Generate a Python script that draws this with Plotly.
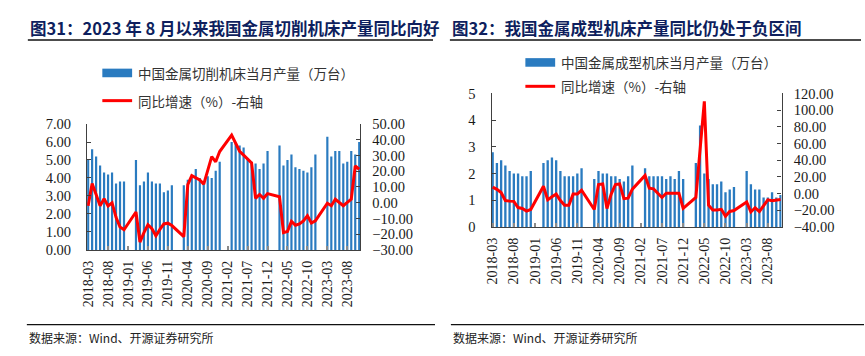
import plotly.graph_objects as go
import pandas as pd

W, H = 865, 356

# ---------------- data ----------------
months = [p.strftime("%Y-%m") for p in pd.period_range("2018-03", "2023-11", freq="M")]
tick_labels = months[::5]

# 图31 中国金属切削机床当月产量（万台）
cut_output = [
    5.0, 5.6, 5.2, 4.7, 4.3, 4.2, 4.3, 3.7, 3.8, 3.8,              # 2018-03..12
    None, None, 5.0, 3.6, 3.8, 4.3, 3.8, 3.7, 3.7, 3.2, 3.3, 3.6,  # 2019
    None, None, 3.6, 3.9, 4.1, 4.5, 4.0, 3.8, 4.1, 4.0, 4.4, 4.9,  # 2020
    None, None, 6.0, 5.9, 5.8, 5.7, 5.1, 4.9, 4.8, 4.5, 4.8, 5.5,  # 2021
    None, None, 5.8, 4.7, 5.0, 5.3, 4.6, 4.5, 4.4, 4.3, 4.6, 5.3,  # 2022
    None, None, 6.3, 5.2, 5.5, 5.5, 4.8, 4.9, 5.5, 5.3, 6.0,       # 2023-01..11
]
# 同比增速（%）
cut_yoy = [
    -2.0, 12.2, 5.2, -2.0, 2.6, -2.0, 0.0, -9.3, -15.5, -17.2,
    None, None, -5.9, -25.0, -19.0, -14.0, -16.5, -21.0, -17.0, -13.5, -13.0, -14.5,
    None, None, -21.6, 11.5, 17.2, 15.8, 14.5, 11.8, 20.7, 29.3, 26.0, 32.5,
    None, None, 43.0, 37.3, 32.7, 30.3, 27.9, 25.3, 2.8, 5.2, 2.8, 5.8,
    None, None, 3.8, -19.0, -18.3, -11.9, -14.3, -13.5, -11.5, -8.3, -12.9, -11.5,
    None, None, -0.3, -1.9, 2.2, 0.2, -1.9, 0.2, 2.2, 23.3, 21.3,
]

# 图32 中国金属成型机床当月产量（万台）
form_output = [
    2.8, 2.4, 2.5, 2.3, 2.1, 2.0, 2.0, 1.9, 1.9, 2.1,
    None, None, 2.4, 2.5, 2.6, 2.5, 2.1, 1.9, 1.9, 1.9, 2.0, 2.2,
    None, None, 1.8, 2.1, 2.0, 2.0, 1.9, 1.9, 1.8, 1.7, 1.9, 2.3,
    None, None, 2.2, 1.9, 1.9, 1.9, 1.9, 1.8, 1.9, 1.8, 2.1, 1.8,
    None, None, 2.4, 3.8, 2.0, 1.8, 1.6, 1.6, 1.7, 1.3, 1.4, 1.5,
    None, None, 2.1, 1.6, 1.4, 1.4, 1.1, 1.1, 1.3, 1.1, 1.2,
]
form_yoy = [
    7.8, 5.1, 1.3, -8.3, -9.0, -9.3, -16.7, -17.8, -20.9, -19.0,
    None, None, 8.9, -7.5, -3.7, -0.6, -8.3, -14.0, -14.0, -0.6, -0.6, 4.0,
    None, None, -19.0, 10.9, 11.6, -17.8, -0.6, 10.9, 11.6, -6.0, -5.4, 5.4,
    None, None, 21.8, 6.5, 5.7, 0.0, -4.6, 0.4, 0.4, 0.4, 0.4, -17.6,
    None, None, -4.6, 53.0, 110.5, -13.8, -19.5, -19.5, -18.8, -27.0, -21.4, -20.3,
    None, None, -10.0, -22.0, -17.0, -21.5, -14.5, -7.5, -8.4, -7.5, -7.0,
]

left_title = "图31：2023 年 8 月以来我国金属切削机床产量同比向好"
right_title = "图32：我国金属成型机床产量同比仍处于负区间"
left_bar_name = "中国金属切削机床当月产量（万台）"
right_bar_name = "中国金属成型机床当月产量（万台）"
line_name = "同比增速（%）-右轴"
source_text = "数据来源：Wind、开源证券研究所"

# ---------------- style ----------------
BLUE = "#2A7BC0"
RED = "#FF0000"
AXIS = "#404040"
NAVY = "#0E1F5E"
SERIF = "Liberation Serif"
CJK = "Noto Sans CJK SC"


def px(x):
    return x / W


def py(y):
    return 1 - y / H


fig = go.Figure()
fig.add_trace(go.Bar(x=months, y=cut_output, xaxis="x", yaxis="y",
                     marker=dict(color=BLUE, line=dict(width=0)), name=left_bar_name))
fig.add_trace(go.Scatter(x=months, y=cut_yoy, xaxis="x", yaxis="y2", mode="lines",
                         connectgaps=True, line=dict(color=RED, width=3), name=line_name))
fig.add_trace(go.Bar(x=months, y=form_output, xaxis="x2", yaxis="y3",
                     marker=dict(color=BLUE, line=dict(width=0)), name=right_bar_name))
fig.add_trace(go.Scatter(x=months, y=form_yoy, xaxis="x2", yaxis="y4", mode="lines",
                         connectgaps=True, line=dict(color=RED, width=3), name=line_name))

tickfont = dict(family=SERIF, size=14.5, color="#1a1a1a")
xfont = dict(family=SERIF, size=14, color="#1a1a1a")

xcommon = dict(type="category", categoryorder="array", categoryarray=months,
               tickmode="array", tickvals=tick_labels, ticktext=tick_labels,
               tickangle=-90, tickfont=xfont, showline=True, linecolor=AXIS, linewidth=1.3,
               ticks="inside", ticklen=4, tickcolor="#8a8a8a", tickwidth=2,
               showgrid=False, zeroline=False, range=[-0.25, 68.25], ticklabelstandoff=4)
ycommon = dict(showline=True, linecolor=AXIS, linewidth=1.3, ticks="inside", ticklen=4,
               tickcolor=AXIS, showgrid=False, zeroline=False, tickfont=tickfont)

fig.update_layout(
    width=W, height=H, margin=dict(l=0, r=0, t=0, b=0),
    paper_bgcolor="white", plot_bgcolor="white", showlegend=False,
    bargap=0.45,
    xaxis=dict(domain=[px(81.7), px(356.7)], anchor="y", **xcommon),
    yaxis=dict(domain=[py(253.3), py(121.5)], anchor="x", range=[0, 7], dtick=1,
               tickformat=".2f", ticklabelstandoff=12, **ycommon),
    yaxis2=dict(overlaying="y", anchor="x", side="right", range=[-30, 50], dtick=10,
                tickformat=".2f", ticklabelstandoff=8, **ycommon),
    xaxis2=dict(domain=[px(489), px(781)], anchor="y3", **xcommon),
    yaxis3=dict(domain=[py(229.3), py(89.5)], anchor="x2", range=[0, 5], dtick=1,
                tickformat="d", ticklabelstandoff=12, **ycommon),
    yaxis4=dict(overlaying="y3", anchor="x2", side="right", range=[-40, 120], dtick=20,
                tickformat=".2f", ticklabelstandoff=8, **ycommon),
)

shapes = []
annos = []

# titles + underline
for x0, x1, txt in [(22, 430, left_title), (447, 861, right_title)]:
    annos.append(dict(x=px(x0), y=py(21), xref="paper", yref="paper", xanchor="left",
                      yanchor="middle", text=f"<b>{txt}</b>", showarrow=False,
                      font=dict(family=CJK, size=16.5, color=NAVY)))
    shapes.append(dict(type="line", xref="paper", yref="paper", x0=px(x0), x1=px(x1),
                       y0=py(33.5), y1=py(33.5), line=dict(color="#111", width=1.5)))

# footers
for x0, x1 in [(21, 432), (448, 864)]:
    shapes.append(dict(type="line", xref="paper", yref="paper", x0=px(x0), x1=px(x1),
                       y0=py(331.5), y1=py(331.5), line=dict(color="#111", width=1.3)))
    annos.append(dict(x=px(x0), y=py(345), xref="paper", yref="paper", xanchor="left",
                      yanchor="middle", text=source_text, showarrow=False,
                      font=dict(family=CJK, size=12, color="#222")))

# legends
for lx, by, ly, name in [(97, 68, 97, left_bar_name), (523, 57, 82, right_bar_name)]:
    shapes.append(dict(type="rect", xref="paper", yref="paper", x0=px(lx), x1=px(lx + 30),
                       y0=py(by + 4.5), y1=py(by - 4.5), line=dict(width=0), fillcolor=BLUE))
    shapes.append(dict(type="line", xref="paper", yref="paper", x0=px(lx), x1=px(lx + 30),
                       y0=py(ly), y1=py(ly), line=dict(color=RED, width=3)))
    annos.append(dict(x=px(lx + 34), y=py(by), xref="paper", yref="paper", xanchor="left",
                      yanchor="middle", text=name, showarrow=False,
                      font=dict(family=CJK, size=13.5, color="#333")))
    annos.append(dict(x=px(lx + 34), y=py(ly), xref="paper", yref="paper", xanchor="left",
                      yanchor="middle", text=line_name, showarrow=False,
                      font=dict(family=CJK, size=13.5, color="#333")))

fig.update_layout(shapes=shapes, annotations=annos)

fig.write_html("out.html", config={"displayModeBar": False},
               post_script="document.body.style.margin='0';")
